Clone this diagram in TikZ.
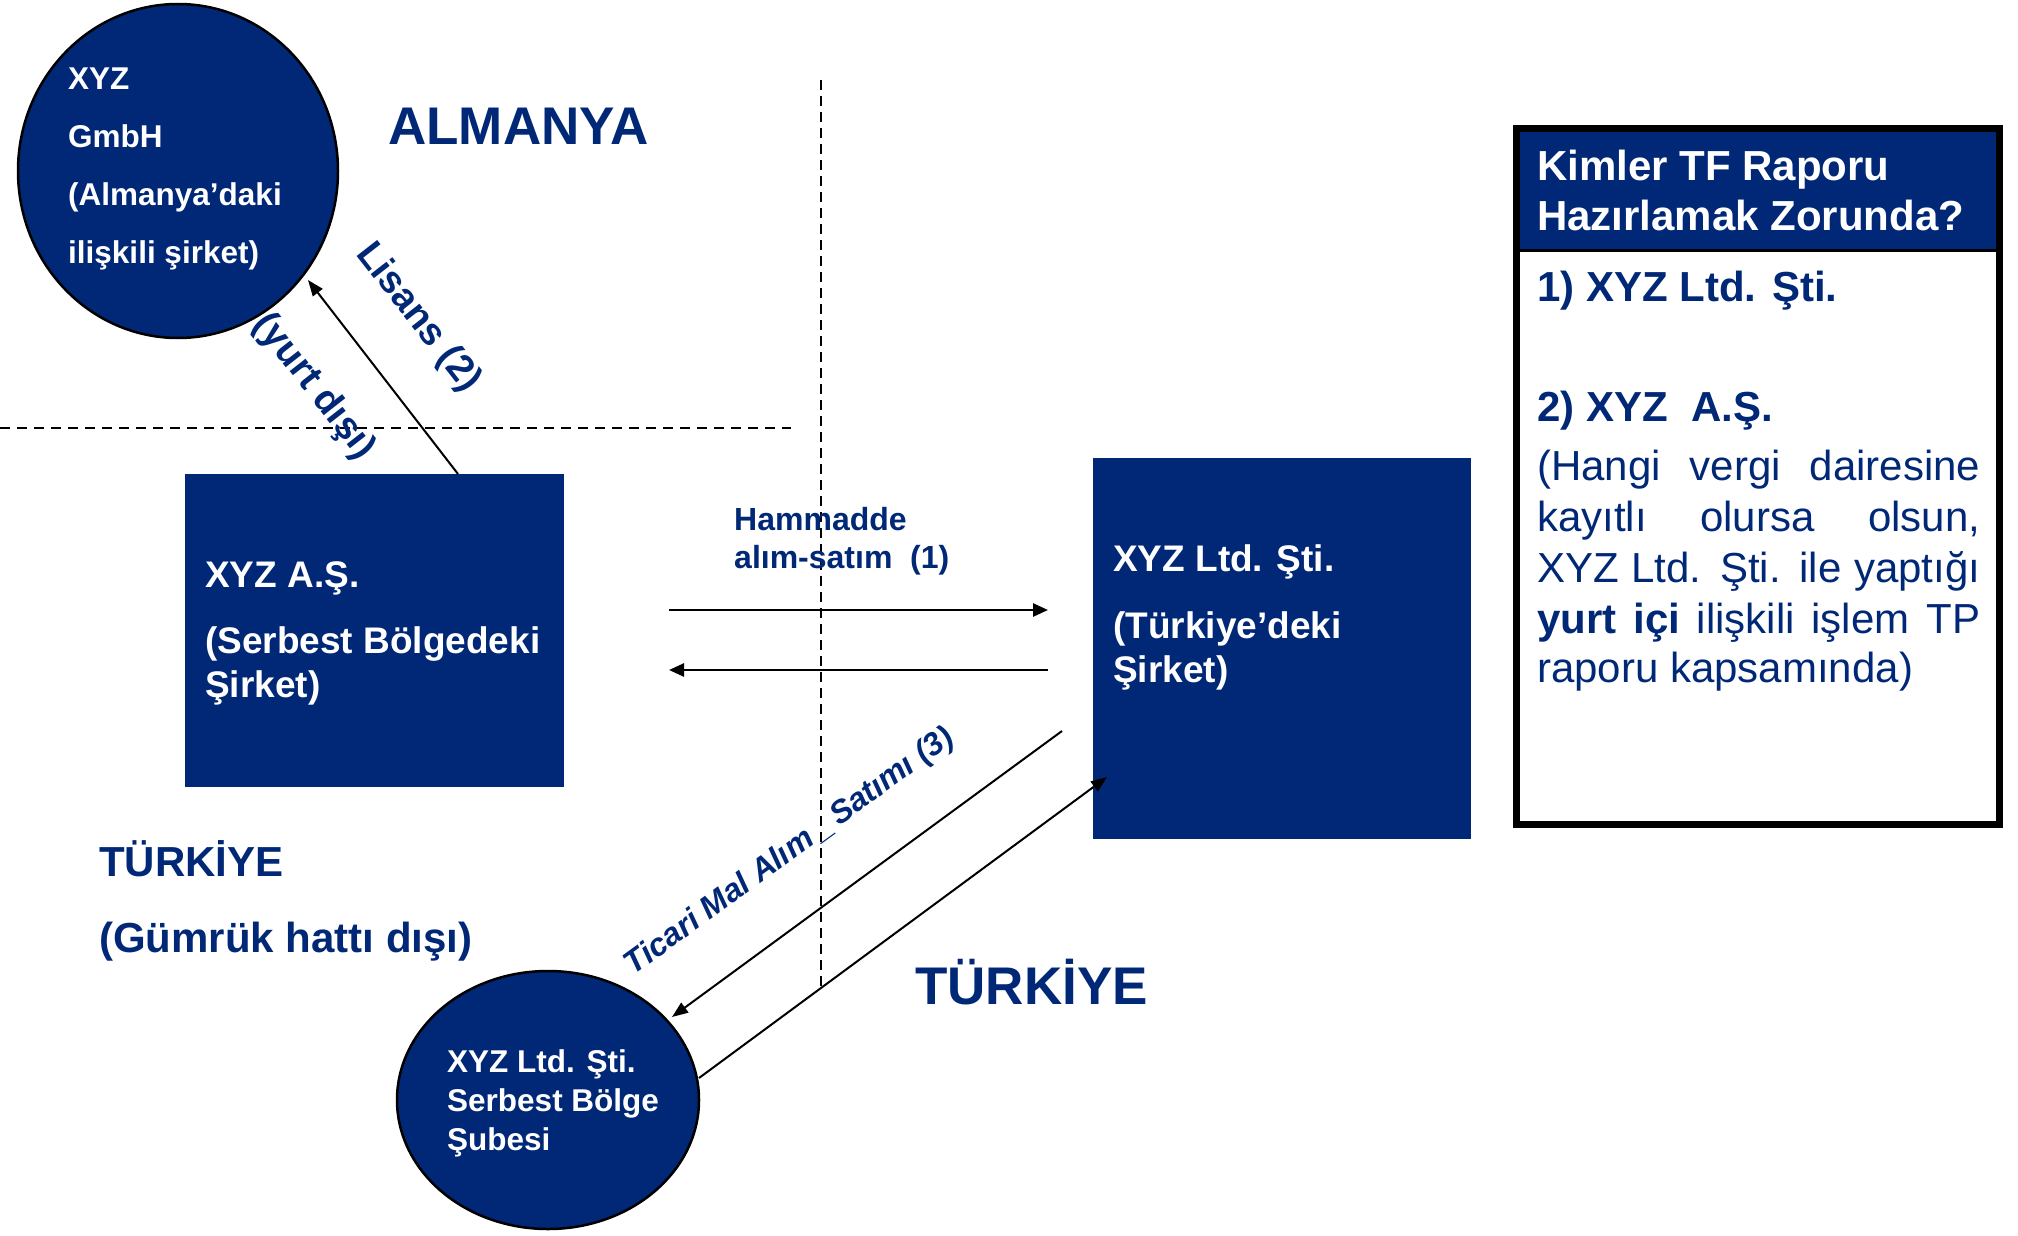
\documentclass[tikz,border=0pt]{standalone}
\usepackage{fontspec}
\setmainfont{Liberation Sans}
\usetikzlibrary{arrows.meta,shapes.geometric}
\definecolor{navy}{RGB}{0,40,118}
\begin{document}
\begin{tikzpicture}[x=1pt,y=-1pt,
  arr/.style={draw=black,line width=2pt,-{Triangle[length=16pt,width=12pt]}},
  harr/.style={draw=black,line width=2.6pt,-{Triangle[length=15pt,width=13pt]}},
  dline/.style={draw=black,line width=2.5pt,dash pattern=on 10pt off 7pt},
  vline/.style={draw=black,line width=2pt,dash pattern=on 10pt off 6pt},
  wt/.style={text=white,inner sep=0pt,anchor=base west},
  nv/.style={text=navy,inner sep=0pt,anchor=base west},
  blk/.style={fill=navy,inner sep=0pt,outer sep=0pt,anchor=north west},
  oval/.style={ellipse,draw=black,fill=navy,line width=2.5pt,inner sep=0pt},
]
\useasboundingbox (0,0) rectangle (2018,1236);

% separator lines
\coordinate (hl1) at (0,428);
\coordinate (hl2) at (791,428);
\coordinate (vl1) at (821,80);
\coordinate (vl2) at (821,988);
\draw[dline] (hl1) -- (hl2);
\draw[vline] (vl1) -- (vl2);

% top ellipse
\node[oval,minimum width=320pt,minimum height=334pt] (gmbh) at (178,171) {};
\begin{scope}[every node/.style={wt,font=\bfseries\fontsize{31.5}{37}\selectfont}]
\node (g1) at (68,90) {XYZ};
\node (g2) at (68,148) {GmbH};
\node (g3) at (68,205) {(Almanya’daki};
\node (g4) at (68,263) {ilişkili şirket)};
\end{scope}

\node[nv,font=\bfseries\fontsize{53}{60}\selectfont] (alm) at (388,144) {ALMANYA};

% XYZ A.S. box
\node[blk,minimum width=379pt,minimum height=313pt] (as) at (185,474) {};
\begin{scope}[every node/.style={wt,font=\bfseries\fontsize{37}{44}\selectfont}]
\node (a1) at (205,587) {XYZ A.Ş.};
\node (a2) at (205,653) {(Serbest Bölgedeki};
\node (a3) at (205,697) {Şirket)};
\end{scope}

% XYZ Ltd box
\node[blk,minimum width=378pt,minimum height=381pt] (ltd) at (1093,458) {};
\begin{scope}[every node/.style={wt,font=\bfseries\fontsize{37}{44}\selectfont}]
\node (l1) at (1113,571) {XYZ Ltd. Şti.};
\node (l2) at (1113,638) {(Türkiye’deki};
\node (l3) at (1113,682) {Şirket)};
\end{scope}

% bottom circle
\node[oval,minimum width=302pt,minimum height=258pt] (sube) at (548,1100) {};
\begin{scope}[every node/.style={wt,font=\bfseries\fontsize{31.5}{37}\selectfont}]
\node (s1) at (447,1072) {XYZ Ltd. Şti.};
\node (s2) at (447,1111) {Serbest Bölge};
\node (s3) at (447,1150) {Şubesi};
\end{scope}

% Lisans arrow
\coordinate (lisS) at (458,474);
\coordinate (lisE) at (308,280);
\draw[arr] (lisS) -- (lisE);
\node[text=navy,inner sep=0pt,rotate=-52,font=\bfseries\fontsize{38}{44}\selectfont] (lis) at (418,318) {Lisans (2)};
\node[text=navy,inner sep=0pt,rotate=-52,font=\bfseries\fontsize{38}{44}\selectfont] (yd) at (314,387) {(yurt dışı)};

% Hammadde arrows
\coordinate (h1a) at (669,610);
\coordinate (h1b) at (1048,610);
\coordinate (h2a) at (1048,670);
\coordinate (h2b) at (669,670);
\draw[harr] (h1a) -- (h1b);
\draw[harr] (h2a) -- (h2b);
\begin{scope}[every node/.style={nv,font=\bfseries\fontsize{32}{38}\selectfont}]
\node (hm1) at (734,530) {Hammadde};
\node (hm2) at (734,568) {alım-satım\ \ (1)};
\end{scope}

% Ticari arrows
\coordinate (tAs) at (1062,731);
\coordinate (tAe) at (672,1017);
\coordinate (tBs) at (699,1078);
\coordinate (tBe) at (1107,777);
\draw[arr] (tAs) -- (tAe);
\draw[arr] (tBs) -- (tBe);
\node[text=navy,inner sep=0pt,rotate=36,font=\bfseries\itshape\fontsize{32}{38}\selectfont] (tic) at (790,852) {Ticari Mal Alım\,\textunderscore\,Satımı (3)};

% region labels
\node[nv,font=\bfseries\fontsize{42}{50}\selectfont] (tr1) at (99,876) {TÜRKİYE};
\node[nv,font=\bfseries\fontsize{42}{50}\selectfont] (tr2) at (99,952) {(Gümrük hattı dışı)};
\node[nv,font=\bfseries\fontsize{53}{60}\selectfont] (tr3) at (915,1004) {TÜRKİYE};

% right panel
\node[blk,minimum width=483pt,minimum height=120.5pt] (hdr) at (1516.5,128.5) {};
\draw[line width=3pt] ([yshift=-1.5pt]hdr.south west) -- ([yshift=-1.5pt]hdr.south east);
\node[draw=black,line width=6.5pt,outer sep=0pt,minimum width=483pt,minimum height=696pt,inner sep=0pt,anchor=north west] (panel) at (1516.5,128.5) {};
\begin{scope}[every node/.style={wt,font=\bfseries\fontsize{42}{50}\selectfont}]
\node (k1) at (1537,180) {Kimler TF Raporu};
\node (k2) at (1537,230) {Hazırlamak Zorunda?};
\end{scope}
\begin{scope}[every node/.style={nv,font=\fontsize{42}{50}\selectfont}]
\node[font=\bfseries\fontsize{42}{50}\selectfont] (b1) at (1537,301) {1) XYZ Ltd. Şti.};
\node[font=\bfseries\fontsize{42}{50}\selectfont] (b2) at (1537,421) {2) XYZ\ \ A.Ş.};
\node (b3) at (1537,480) {\makebox[443pt][s]{(Hangi vergi dairesine}};
\node (b4) at (1537,531) {\makebox[443pt][s]{kayıtlı olursa olsun,}};
\node (b5) at (1537,582) {\makebox[443pt][s]{XYZ Ltd. Şti. ile yaptığı}};
\node (b6) at (1537,633) {\makebox[443pt][s]{\textbf{yurt içi} ilişkili işlem TP}};
\node (b7) at (1537,682) {raporu kapsamında)};
\end{scope}
\end{tikzpicture}
\end{document}
